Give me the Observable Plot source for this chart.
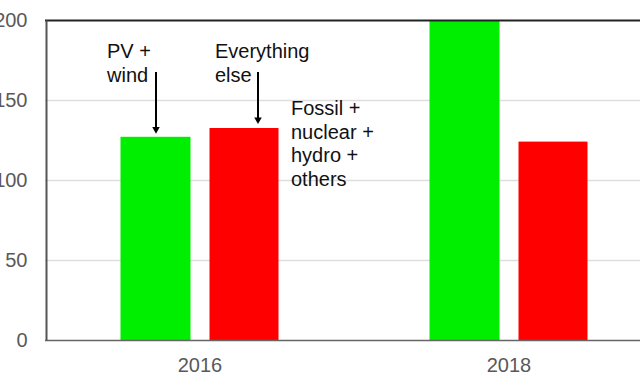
<!DOCTYPE html>
<html>
<head>
<meta charset="utf-8">
<script src="https://cdn.jsdelivr.net/npm/d3@7"></script>
<script src="https://cdn.jsdelivr.net/npm/@observablehq/plot@0.6"></script>
<style>
  html, body { margin: 0; padding: 0; background: #fff; overflow: hidden; }
  #chart svg { display: block; }
</style>
</head>
<body>
<div id="chart"></div>
<script>
// Data
const years = ["2016", "2018"];
const pvWind = [127, 200];
const everythingElse = [132.5, 124];
const yTicks = [0, 50, 100, 150, 200];
const gridValues = [50, 100, 150];

// Annotations (2016 group)
const labelPV = "PV +\nwind";
const labelElse = "Everything\nelse";
const labelFossil = "Fossil +\nnuclear +\nhydro +\nothers";
const arrowTop = 167.5;
const arrowTipPV = 129.5;
const arrowTipElse = 135.5;
const labelTopY = 173.75;
const labelFossilY = 123.4;

const rows = years.map((year, i) => ({year, pv: pvWind[i], other: everythingElse[i]}));

const font = "'Liberation Sans', Arial, sans-serif";

const chart = Plot.plot({
  width: 640,
  height: 384,
  marginLeft: 45,
  marginRight: 0,
  marginTop: 20,
  marginBottom: 44,
  style: {fontFamily: font, fontSize: "20px", color: "#595959", background: "#fff"},
  x: {domain: years, range: [44.5, 662.5], padding: 0, tickSize: 0, tickPadding: 17, label: null},
  y: {domain: [0, 200], ticks: yTicks, tickSize: 0, tickPadding: 18, label: null},
  marks: [
    Plot.ruleY(gridValues, {stroke: "#dedede", strokeWidth: 1.5}),
    Plot.barY(rows, {x: "year", y: "pv", fill: "#00ee00", insetLeft: 75.5, insetRight: 163.5}),
    Plot.barY(rows, {x: "year", y: "other", fill: "#ff0000", insetLeft: 164.5, insetRight: 75.5}),
    Plot.ruleY([yTicks[0]], {stroke: "#666", strokeWidth: 1.5}),
    Plot.ruleY([yTicks[yTicks.length - 1]], {stroke: "#222", strokeWidth: 2}),
    // left spine at the left edge of the first band
    Plot.link([years[0]], {x1: d => d, x2: d => d, y1: yTicks[0], y2: yTicks[yTicks.length - 1], dx: -153.5, stroke: "#555", strokeWidth: 2}),
    // arrows
    Plot.ruleX([years[0]], {x: d => d, y1: arrowTop, y2: arrowTipPV + 2, dx: -44, stroke: "#000", strokeWidth: 2}),
    Plot.ruleX([years[0]], {x: d => d, y1: arrowTop, y2: arrowTipElse + 2, dx: 58, stroke: "#000", strokeWidth: 2}),
    Plot.dot([years[0]], {x: d => d, y: arrowTipPV, dx: -44, dy: -4, symbol: "triangle", rotate: 180, r: 2.8, fill: "#000", stroke: "none"}),
    Plot.dot([years[0]], {x: d => d, y: arrowTipElse, dx: 58, dy: -4, symbol: "triangle", rotate: 180, r: 2.8, fill: "#000", stroke: "none"}),
    // labels
    Plot.text([labelPV], {x: () => years[0], y: labelTopY, text: d => d, dx: -93, textAnchor: "start", lineAnchor: "middle", lineHeight: 1.2, fontSize: 20, fill: "#111"}),
    Plot.text([labelElse], {x: () => years[0], y: labelTopY, text: d => d, dx: 15, textAnchor: "start", lineAnchor: "middle", lineHeight: 1.2, fontSize: 20, fill: "#111"}),
    Plot.text([labelFossil], {x: () => years[0], y: labelFossilY, text: d => d, dx: 91, textAnchor: "start", lineAnchor: "middle", lineHeight: 1.18, fontSize: 20, fill: "#111"})
  ]
});

document.getElementById("chart").appendChild(chart);
</script>
</body>
</html>
